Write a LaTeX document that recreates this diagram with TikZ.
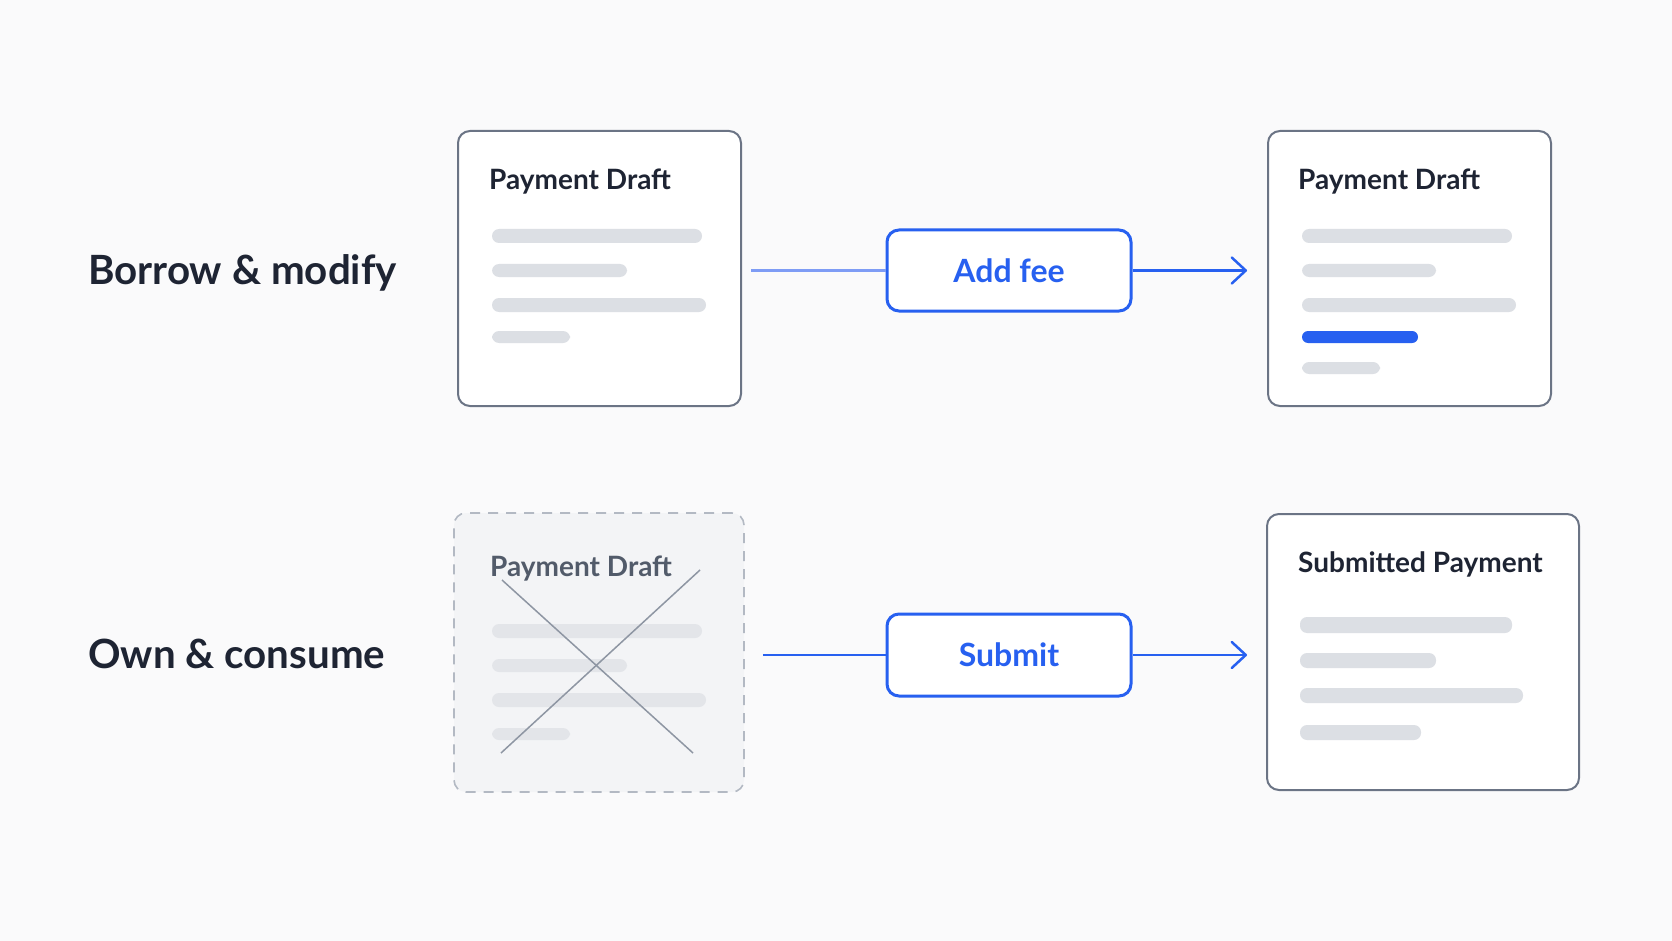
\documentclass[tikz,border=0pt]{standalone}
\usepackage{fontspec}
\setmainfont{Lato}
\usetikzlibrary{arrows.meta}
\definecolor{bg}{HTML}{FAFAFB}
\definecolor{ink}{HTML}{1E2433}
\definecolor{framec}{HTML}{6B7485}
\definecolor{barc}{HTML}{DCDFE4}
\definecolor{accent}{HTML}{2760F0}
\definecolor{accentlight}{HTML}{7E9CF5}
\definecolor{ghostfill}{HTML}{F3F4F6}
\definecolor{ghostline}{HTML}{B3B9C3}
\definecolor{ghosttext}{HTML}{525B6A}
\definecolor{ghostbar}{HTML}{E3E5E9}
\definecolor{crossc}{HTML}{8E96A3}
\tikzset{
  card/.style={draw=framec, line width=2pt, fill=white, rounded corners=12pt, inner sep=0pt},
  ghostcard/.style={draw=ghostline, line width=1.6pt, dash pattern=on 10pt off 8pt, fill=ghostfill, rounded corners=12pt, inner sep=0pt},
  actionbox/.style={draw=accent, line width=3pt, fill=white, rounded corners=12pt, inner sep=0pt,
    text=accent, font=\fontsize{32}{36}\selectfont\bfseries},
  cardtitle/.style={anchor=base west, inner sep=0pt, text=ink, font=\fontsize{28}{32}\selectfont\bfseries},
  rowlabel/.style={anchor=base west, inner sep=0pt, text=ink, font=\fontsize{40.3}{46}\selectfont\bfseries},
  bar/.style={fill=barc, rounded corners=7pt},
  gbar/.style={fill=ghostbar, rounded corners=7pt},
  flow/.style={draw=accent, line width=2.5pt},
  arrowflow/.style={flow, -{Straight Barb[length=14pt,width=26pt,line width=2.5pt,round]}},
}
\begin{document}
\begin{tikzpicture}[x=1pt,y=-1pt]
\fill[bg] (0,0) rectangle (1672,941);
\useasboundingbox (0,0) rectangle (1672,941);

% row labels
\node[rowlabel] (lab1) at (88,284) {Borrow \& modify};
\node[rowlabel] (lab2) at (88,668) {Own \& consume};

% cards
\node[card, minimum width=283pt, minimum height=275pt] (box1) at (599.5,268.5) {};
\node[card, minimum width=283pt, minimum height=275pt] (box2) at (1409.5,268.5) {};
\node[ghostcard, minimum width=290pt, minimum height=279pt] (box3) at (599,652.5) {};
\node[card, minimum width=312pt, minimum height=276pt] (box4) at (1423,652) {};

% action boxes
\node[actionbox, minimum width=244pt, minimum height=81pt] (addfee) at (1009,270.5) {Add fee};
\node[actionbox, minimum width=244pt, minimum height=82pt] (submit) at (1009,655) {Submit};

% titles
\node[cardtitle] (t1) at (489,190) {Payment Draft};
\node[cardtitle] (t2) at (1298,190) {Payment Draft};
\node[cardtitle, text=ghosttext] (t3) at (490,576) {Payment Draft};
\node[cardtitle] (t4) at (1298,572) {Submitted Payment};

% bars card 1
\fill[bar] (492,229) rectangle (702,243);
\fill[bar] (492,264) rectangle (627,277);
\fill[bar] (492,298) rectangle (706,312);
\fill[bar] (492,331) rectangle (570,343);

% bars card 2
\fill[bar] (1302,229) rectangle (1512,243);
\fill[bar] (1302,264) rectangle (1436,277);
\fill[bar] (1302,298) rectangle (1516,312);
\fill[accent, rounded corners=6pt] (1302,331) rectangle (1418,343);
\fill[bar] (1302,362) rectangle (1380,374);

% bars card 3 (ghost)
\fill[gbar] (492,624) rectangle (702,638);
\fill[gbar] (492,659) rectangle (627,672);
\fill[gbar] (492,693) rectangle (706,707);
\fill[gbar] (492,728) rectangle (570,740);
\draw[crossc, line width=1.5pt] (502,580) -- (693,753);
\draw[crossc, line width=1.5pt] (700,570) -- (501,753);

% bars card 4
\fill[bar] (1300,617) rectangle (1512,633);
\fill[bar] (1300,653) rectangle (1436,668);
\fill[bar] (1300,688) rectangle (1523,703);
\fill[bar] (1300,725) rectangle (1421,740);

% connectors
\draw[flow, draw=accentlight, shorten <=9pt] (box1.east |- addfee.west) -- (addfee.west);
\draw[arrowflow, shorten >=20pt] (addfee.east) -- (box2.west |- addfee.east);
\draw[flow, shorten <=18pt] (box3.east |- submit.west) -- (submit.west);
\draw[arrowflow, shorten >=19pt] (submit.east) -- (box4.west |- submit.east);
\end{tikzpicture}
\end{document}
